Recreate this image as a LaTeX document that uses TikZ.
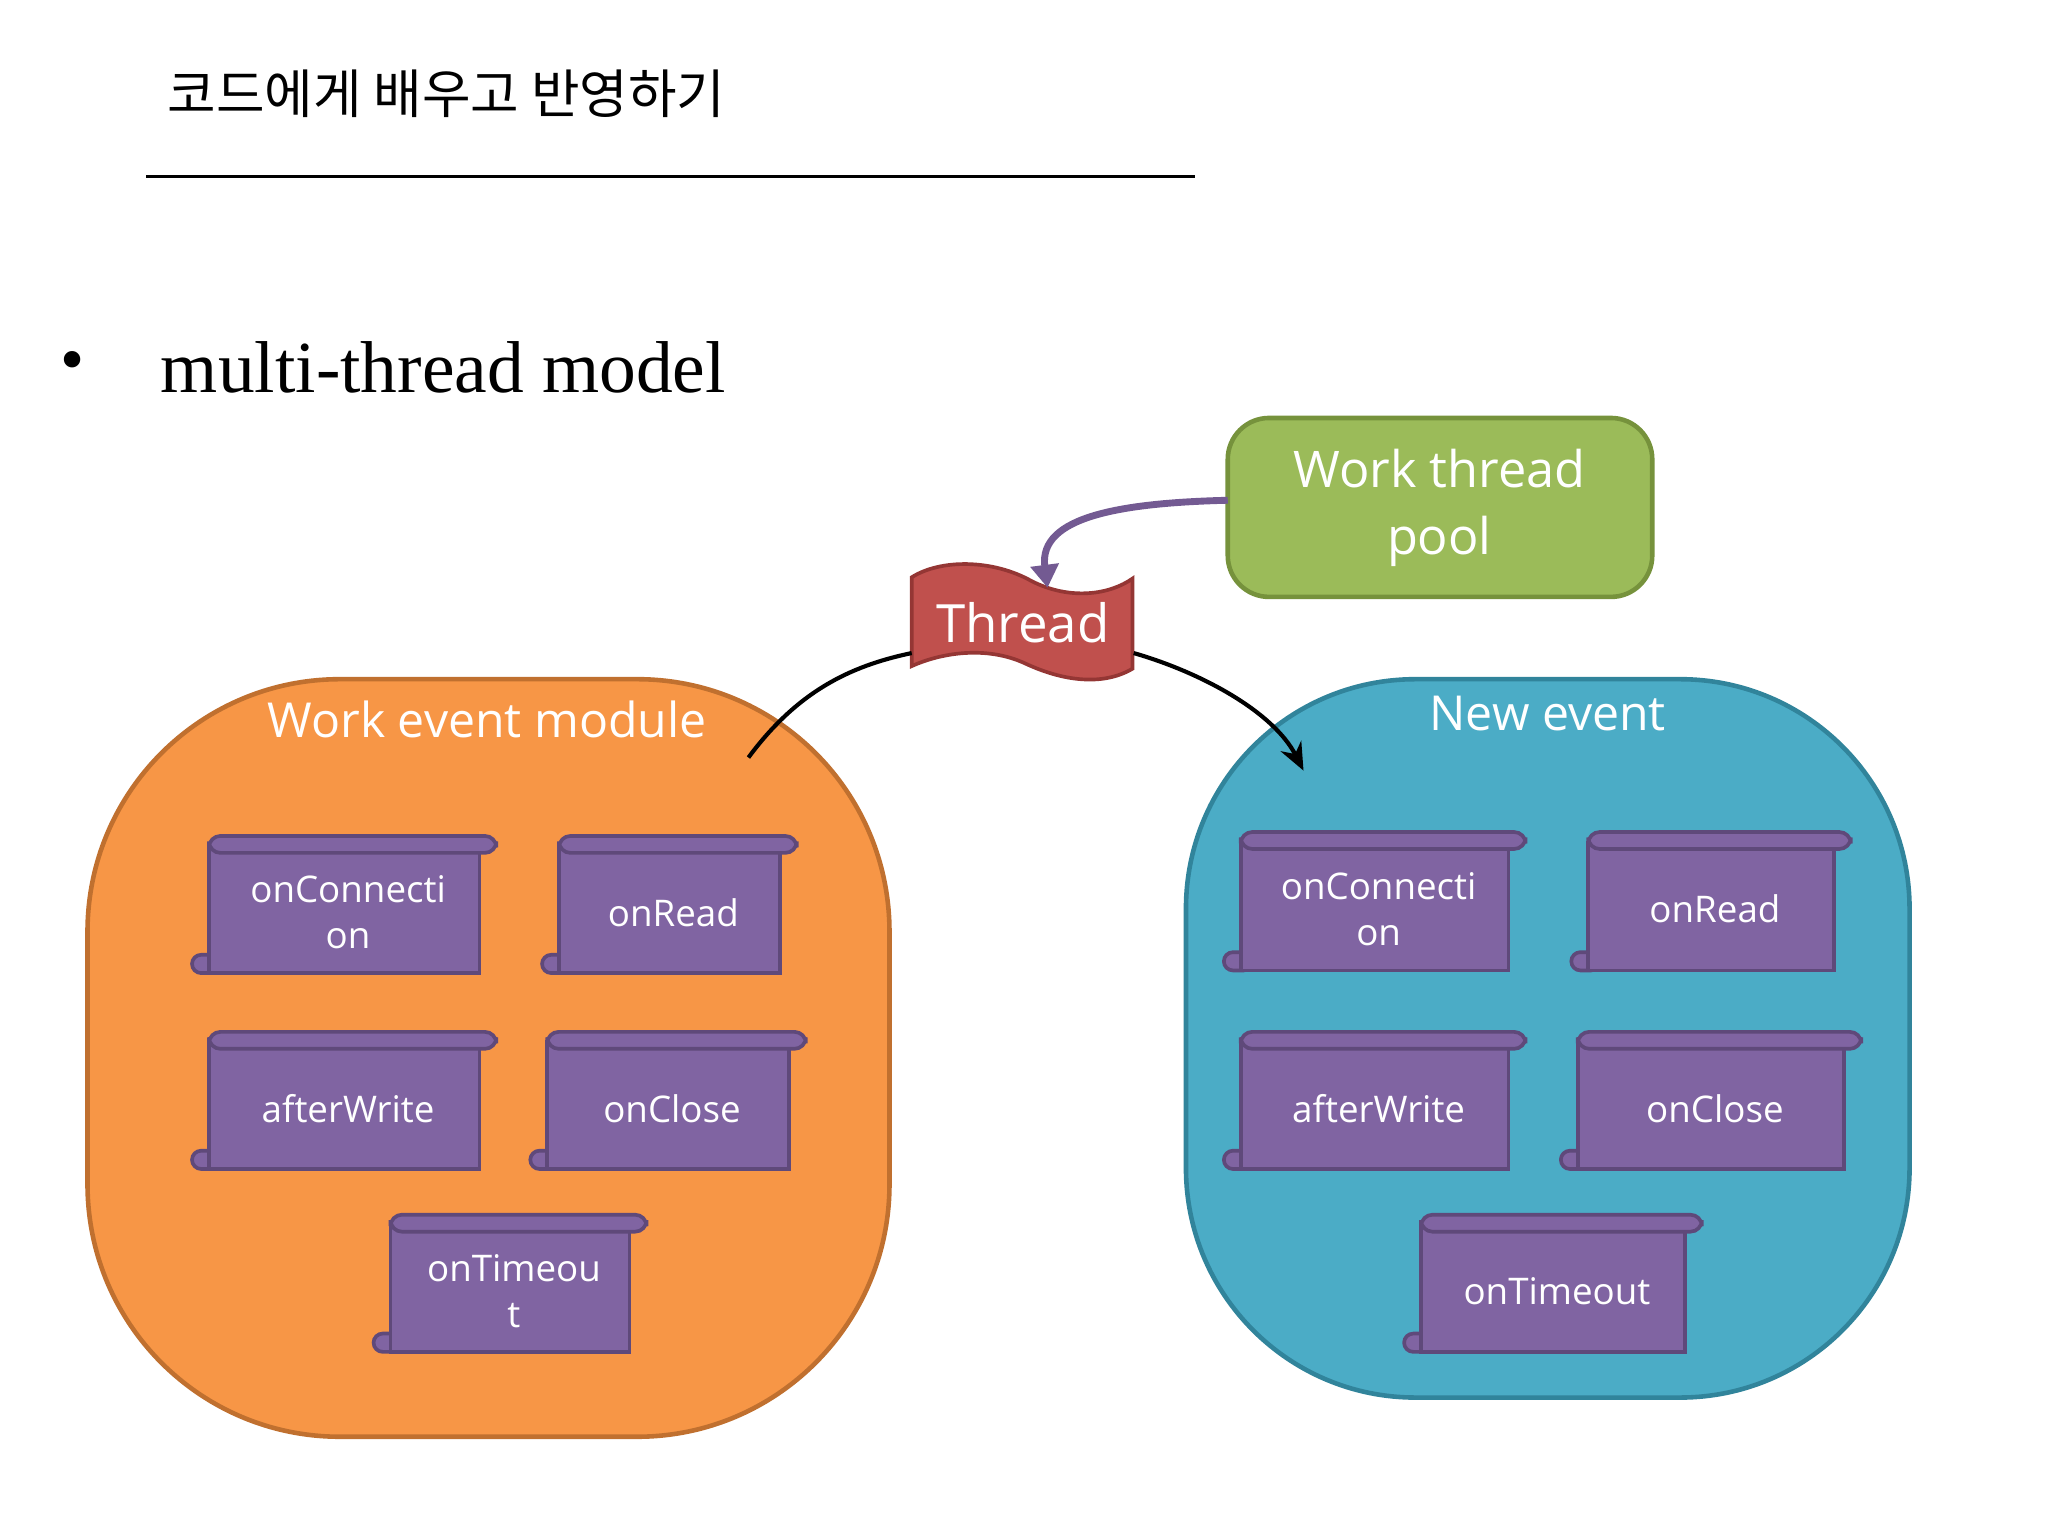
\documentclass[tikz,border=0pt]{standalone}
\usepackage{fontspec}
\setmainfont{Open Sans}
\newfontfamily\cjk{Noto Sans CJK KR}
\newfontfamily\tms{Liberation Serif}
\usetikzlibrary{arrows.meta}
\definecolor{orng}{HTML}{F79646}\definecolor{orngd}{HTML}{C0702F}
\definecolor{blu}{HTML}{4BACC6}\definecolor{blud}{HTML}{31849B}
\definecolor{grn}{HTML}{9BBB59}\definecolor{grnd}{HTML}{76923C}
\definecolor{rd}{HTML}{C0504D}\definecolor{rdd}{HTML}{943634}
\definecolor{pur}{HTML}{8064A2}\definecolor{purd}{HTML}{5F497A}
\tikzset{scr/.style={fill=pur,draw=purd,line width=1.6pt},
 stxt/.style={text=white,font=\fontsize{16}{20}\selectfont,align=center},
 big/.style={text=white,align=center}}
\newcommand{\myscroll}[6]{%
 \fill[scr,rounded corners=4pt] (#2,#5-14) rectangle (#2+22,#5);
 \fill[scr] (#2+13,#4+8) rectangle (#3-13,#5);
 \fill[scr,rounded corners=5pt] (#2+13,#4) rectangle (#3,#4+13);
 \node[stxt] (#1) at ({(#2+#3)/2+3},{(#4+#5)/2+6}) {#6};}
\begin{document}
\begin{tikzpicture}[x=0.02cm,y=-0.02cm]
\useasboundingbox (0,0) rectangle (1568,1176);
\node[font=\cjk\fontsize{23}{28}\selectfont,anchor=west] (title) at (122,72) {코드에게 배우고 반영하기};
\draw[line width=1.2pt] (112,135) coordinate (l1) -- (915,135) coordinate (l2);
\node[font=\tms\fontsize{30}{36}\selectfont,anchor=west] (bul) at (40,281) {•};
\node[font=\tms\fontsize{32}{38}\selectfont,anchor=west] (mt) at (117,281) {multi-thread model};
\draw[fill=orng,draw=orngd,line width=2pt,rounded corners=110] (67,520) rectangle (681,1100);
\node[big,font=\fontsize{21}{26}\selectfont] (wem) at (373,551) {Work event module};
\draw[fill=blu,draw=blud,line width=2pt,rounded corners=100] (908,520) rectangle (1462,1070);
\node[big,font=\fontsize{21}{26}\selectfont] (ne) at (1185,546) {New event};
\draw[fill=grn,draw=grnd,line width=2pt,rounded corners=18] (940,320) rectangle (1265,457);
\node[big,font=\fontsize{22}{29}\selectfont] (wtp) at (1102,389) {Work thread\\pool};
\draw[fill=rd,draw=rdd,line width=1.6pt] (698,442) .. controls (720,428) and (760,428) .. (790,445)
 .. controls (820,460) and (850,455) .. (867,443) -- (867,512)
 .. controls (845,525) and (815,522) .. (785,508)
 .. controls (755,494) and (720,500) .. (698,510) -- cycle;
\node[big,font=\fontsize{23}{28}\selectfont] (thr) at (783,477) {Thread};
\draw[pur!90!black,line width=3pt,-{Triangle[length=10pt,width=12pt]}] (940,383) .. controls (860,385) and (795,395) .. (802,450);
\coordinate (a1) at (573,580);
\coordinate (a2) at (998,590);
\draw[line width=1.8pt] (a1) .. controls (610,530) and (650,510) .. (698,500);
\draw[line width=1.8pt,-{Stealth[length=12pt,width=10pt]}] (868,500) .. controls (920,515) and (975,545) .. (a2);
\myscroll{c1}{147}{380}{640}{745}{onConnecti\\on}
\myscroll{r1}{415}{610}{640}{745}{onRead}
\myscroll{w1}{147}{380}{790}{895}{afterWrite}
\myscroll{x1}{406}{617}{790}{895}{onClose}
\myscroll{t1}{286}{495}{930}{1035}{onTimeou\\t}
\myscroll{c2}{937}{1168}{637}{743}{onConnecti\\on}
\myscroll{r2}{1203}{1417}{637}{743}{onRead}
\myscroll{w2}{937}{1168}{790}{895}{afterWrite}
\myscroll{x2}{1195}{1425}{790}{895}{onClose}
\myscroll{t2}{1075}{1303}{930}{1035}{onTimeout}
\end{tikzpicture}
\end{document}
